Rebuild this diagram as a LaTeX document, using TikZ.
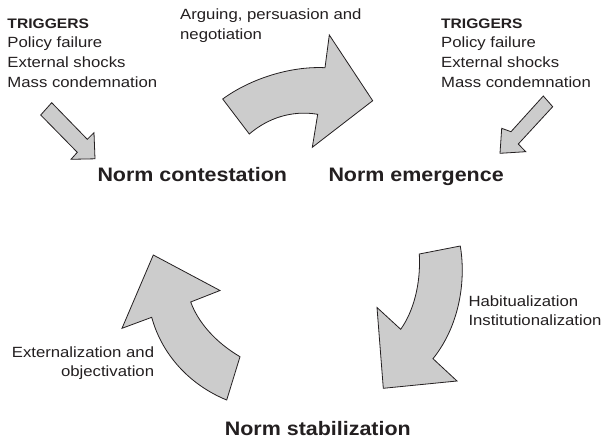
\documentclass[tikz,border=0pt]{standalone}
\usepackage{fontspec}
\setmainfont[FakeStretch=1.1]{Liberation Sans}
\newfontfamily\lblfont[FakeStretch=1.13]{Liberation Sans}
\definecolor{arrowfill}{RGB}{204,204,204}
\definecolor{ink}{HTML}{231F20}
\tikzset{
  blockarrow/.style={draw=ink, fill=arrowfill, line width=0.8pt, line join=miter},
  lbl/.style={inner sep=0pt, text=ink, font=\lblfont\fontsize{14.8}{19.6}\selectfont},
  stage/.style={inner sep=0pt, text=ink, font=\bfseries\fontsize{19.5}{23}\selectfont},
}
\newcommand{\trighead}{{\bfseries\fontsize{13.8}{19.6}\selectfont TRIGGERS}}
\begin{document}
\begin{tikzpicture}[x=1pt,y=-1pt]
\path[fill=white, use as bounding box] (0,0) rectangle (606,440);

% text labels (base anchor = baseline of the last line)
\node[lbl, anchor=base west, align=left] (trigL) at (7.3,87.1)
  {\trighead\\Policy failure\\External shocks\\Mass condemnation};
\node[lbl, anchor=base west, align=left] (trigR) at (441,87.1)
  {\trighead\\Policy failure\\External shocks\\Mass condemnation};
\node[lbl, anchor=base west, align=left] (argue) at (180,39.1)
  {Arguing, persuasion and\\negotiation};
\node[lbl, anchor=base west, align=left] (habit) at (468.3,325.6)
  {Habitualization\\Institutionalization};
\node[lbl, anchor=base east, align=right] (extern) at (154.3,376.9)
  {Externalization and\\objectivation};

\node[stage, anchor=base west] (contest) at (97.3,181.7) {Norm contestation};
\node[stage, anchor=base west] (emerge) at (328.3,181.7) {Norm emergence};
\node[stage, anchor=base east] (stabil) at (411,435) {Norm stabilization};

% top curved arrow: contestation -> emergence
\draw[blockarrow] (222.7,99) .. controls (250,79) and (290,66) .. (325,67.7)
  -- (329.3,35) -- (372.7,100.7) -- (312.3,147.3) -- (317.7,114.3)
  .. controls (292,110) and (268,118) .. (249.3,134) -- cycle;

% left trigger arrow
\draw[blockarrow] (51.7,102.7) -- (87.3,139.3) -- (94,132.7) -- (95,158.8)
  -- (71,159.3) -- (77.3,152.3) -- (40.7,115) -- cycle;

% right trigger arrow
\draw[blockarrow] (543.3,96) -- (511,131.7) -- (501.7,128.3) -- (500,153.3)
  -- (525.7,151.7) -- (518.3,144) -- (552.7,106.7) -- cycle;

% right curved arrow: emergence -> stabilization
\draw[blockarrow] (419.3,254) -- (460.3,246)
  .. controls (466,280) and (460,325) .. (433,358.7)
  -- (457,381) -- (383.3,388.3) -- (377,307.5) -- (400.7,329.3)
  .. controls (413,312) and (421,285) .. (419.3,254) -- cycle;

% left curved arrow: stabilization -> contestation
\draw[blockarrow] (153.3,255) -- (220,290.5) -- (190.7,302)
  .. controls (198,322) and (215,342) .. (240,356.7)
  -- (226.7,400) .. controls (190,385) and (162,355) .. (151.7,317.3)
  -- (122,328.3) -- cycle;
\end{tikzpicture}
\end{document}
